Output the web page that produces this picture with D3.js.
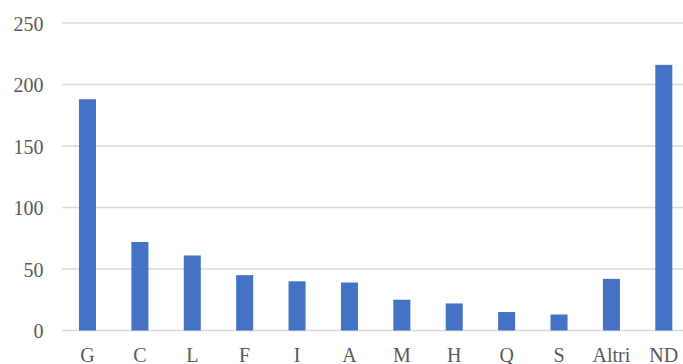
<!DOCTYPE html>
<html>
<head>
<meta charset="utf-8">
<script src="https://cdn.jsdelivr.net/npm/d3@7"></script>
<style>
  body { margin: 0; background: #fff; }
  svg { display: block; }
</style>
</head>
<body>
<svg id="chart"></svg>
<script>
// categories and counts
var categories = ["G", "C", "L", "F", "I", "A", "M", "H", "Q", "S", "Altri", "ND"];
var counts = [188, 72, 61, 45, 40, 39, 25, 22, 15, 13, 42, 216];
var yTicks = [0, 50, 100, 150, 200, 250];

var width = 683;
var height = 364;

var svg = d3.select("#chart")
  .attr("width", width)
  .attr("height", height);

// plot area (right side runs a bit past the window, like the original)
var plotLeft = 61.3, plotRight = 690, plotTop = 23, plotBottom = 330.5;

var x = d3.scaleBand()
  .domain(categories)
  .range([plotLeft, plotRight])
  .paddingInner(0.675)
  .paddingOuter(0.3375);

var y = d3.scaleLinear()
  .domain([0, 250])
  .range([plotBottom, plotTop]);

// horizontal gridlines
svg.append("g")
  .selectAll("line")
  .data(yTicks)
  .enter()
  .append("line")
  .attr("x1", 62)
  .attr("x2", width)
  .attr("y1", d => y(d))
  .attr("y2", d => y(d))
  .attr("stroke", "#d9d9d9")
  .attr("stroke-width", 1.5);

// y tick labels
svg.append("g")
  .selectAll("text")
  .data(yTicks)
  .enter()
  .append("text")
  .attr("x", 43.5)
  .attr("y", d => y(d))
  .attr("dy", "0.38em")
  .attr("text-anchor", "end")
  .attr("font-family", "'Liberation Serif', 'Times New Roman', serif")
  .attr("font-size", "20px")
  .attr("fill", "#595959")
  .text(d => d);

// bars
svg.append("g")
  .selectAll("rect")
  .data(counts)
  .enter()
  .append("rect")
  .attr("x", (d, i) => x(categories[i]))
  .attr("y", d => y(d))
  .attr("width", x.bandwidth())
  .attr("height", d => y(0) - y(d))
  .attr("fill", "#4472c4");

// x labels
svg.append("g")
  .selectAll("text")
  .data(categories)
  .enter()
  .append("text")
  .attr("x", d => x(d) + x.bandwidth() / 2)
  .attr("y", 361.5)
  .attr("text-anchor", "middle")
  .attr("font-family", "'Liberation Serif', 'Times New Roman', serif")
  .attr("font-size", "20px")
  .attr("fill", "#595959")
  .text(d => d);
</script>
</body>
</html>
